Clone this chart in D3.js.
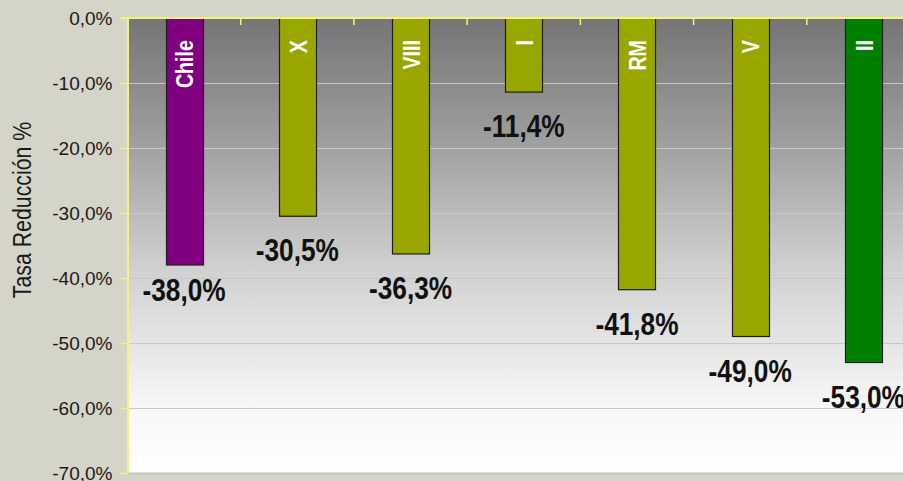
<!DOCTYPE html>
<html>
<head>
<meta charset="utf-8">
<script src="https://cdn.jsdelivr.net/npm/d3@7"></script>
<style>
  html, body { margin: 0; padding: 0; background: #d4d4c8; }
  svg { display: block; }
</style>
</head>
<body>
<div id="chart"></div>
<script>
// Tasa de reducción por región
const regions = ["Chile", "X", "VIII", "I", "RM", "V", "II"];
const reduction = [-38.0, -30.5, -36.3, -11.4, -41.8, -49.0, -53.0];
const barColors = ["#800080", "#99a600", "#99a600", "#99a600", "#99a600", "#99a600", "#008000"];
const yTicks = [0, -10, -20, -30, -40, -50, -60, -70];

const data = regions.map((r, i) => ({ name: r, value: reduction[i], color: barColors[i] }));

// no Arial Narrow here, so squeeze Liberation Sans instead
const sans = "'Liberation Sans', Arial, sans-serif";
const squeeze = 0.82;

const svg = d3.select("#chart").append("svg")
    .attr("width", 903)
    .attr("height", 481);

const margin = { top: 18, left: 127.5, bottom: 8 },
    plotRight = 920,
    plotBottom = 481 - margin.bottom;

const es = d3.formatLocale({ decimal: ",", thousands: ".", grouping: [3], currency: ["", ""], minus: "-" });
const pct = v => es.format(".1f")(v) + "%";

const x = d3.scaleBand()
    .domain(regions)
    .range([margin.left, plotRight])
    .paddingInner(0.673)
    .paddingOuter(0.3365);

const y = d3.scaleLinear()
    .domain([-70, 0])
    .range([plotBottom, margin.top]);

// plot background gradient
const grad = svg.append("defs").append("linearGradient")
    .attr("id", "bg")
    .attr("x1", 0).attr("y1", 0).attr("x2", 0).attr("y2", 1);
[[0, "#757575"], [0.25, "#9b9b9b"], [0.55, "#d0d0d0"], [0.85, "#f6f6f6"], [1, "#ffffff"]]
    .forEach(s => grad.append("stop").attr("offset", s[0]).attr("stop-color", s[1]));

svg.append("rect")
    .attr("x", margin.left)
    .attr("y", margin.top)
    .attr("width", plotRight - margin.left)
    .attr("height", plotBottom - margin.top)
    .attr("fill", "url(#bg)");

// gridlines
svg.append("g")
    .selectAll("line")
    .data(yTicks.filter(d => d !== 0))
    .join("line")
    .attr("x1", margin.left)
    .attr("x2", plotRight)
    .attr("y1", d => Math.round(y(d)) + 0.5)
    .attr("y2", d => Math.round(y(d)) + 0.5)
    .attr("stroke", d => d === -70 ? "#c4c4c4" : "#c8c8c8")
    .attr("stroke-width", d => d === -70 ? 2 : 1);

// bars
svg.append("g")
    .selectAll("rect")
    .data(data)
    .join("rect")
    .attr("x", d => Math.round(x(d.name)) + 0.5)
    .attr("y", y(0))
    .attr("width", Math.round(x.bandwidth()))
    .attr("height", d => y(d.value) - y(0))
    .attr("fill", d => d.color)
    .attr("stroke", "#1e1e1e")
    .attr("stroke-width", 1.2);

// category labels inside bars
svg.append("g")
    .selectAll("text")
    .data(data)
    .join("text")
    .attr("transform", d => `translate(${x(d.name) + x.bandwidth() / 2 + 1},40) rotate(-90) scale(${squeeze},1)`)
    .attr("text-anchor", "end")
    .attr("dominant-baseline", "central")
    .attr("fill", "#fff")
    .style("font-family", sans)
    .style("font-weight", "bold")
    .style("font-size", "24px")
    .text(d => d.name);

// value labels
svg.append("g")
    .selectAll("text")
    .data(data)
    .join("text")
    .attr("transform", d => `translate(${x(d.name) + x.bandwidth() / 2},${y(d.value) + (d.name === "Chile" ? 36 : 45)}) scale(${squeeze},1)`)
    .attr("text-anchor", "middle")
    .attr("fill", "#111")
    .style("font-family", sans)
    .style("font-weight", "bold")
    .style("font-size", "32px")
    .text(d => pct(d.value));

// category ticks on top axis
svg.append("g")
    .selectAll("line")
    .data(regions.slice(1))
    .join("line")
    .attr("x1", d => x(d) - x.step() * x.paddingInner() / 2)
    .attr("x2", d => x(d) - x.step() * x.paddingInner() / 2)
    .attr("y1", margin.top)
    .attr("y2", margin.top + 7)
    .attr("stroke", "#f4f47a")
    .attr("stroke-width", 1.5);

svg.append("line")
    .attr("x1", margin.left - 7)
    .attr("x2", 903)
    .attr("y1", margin.top)
    .attr("y2", margin.top)
    .attr("stroke", "#f4f47a")
    .attr("stroke-width", 2);

// y axis
const yAxis = svg.append("g")
    .attr("transform", `translate(${margin.left},0)`)
    .call(d3.axisLeft(y)
        .tickValues(yTicks)
        .tickSize(7)
        .tickSizeOuter(0)
        .tickPadding(8)
        .tickFormat(pct));

yAxis.select(".domain").attr("stroke", "#f4f47a").attr("stroke-width", 2);
yAxis.selectAll(".tick line").attr("stroke", "#f4f47a").attr("stroke-width", 1.5);
yAxis.selectAll(".tick text")
    .attr("fill", "#1a1a1a")
    .style("font-family", sans)
    .style("font-size", "19px");

// axis title
svg.append("text")
    .attr("transform", `translate(22,210) rotate(-90) scale(${squeeze},1)`)
    .attr("text-anchor", "middle")
    .attr("dominant-baseline", "central")
    .attr("fill", "#1a1a1a")
    .style("font-family", sans)
    .style("font-size", "26px")
    .text("Tasa Reducción %");
</script>
</body>
</html>
